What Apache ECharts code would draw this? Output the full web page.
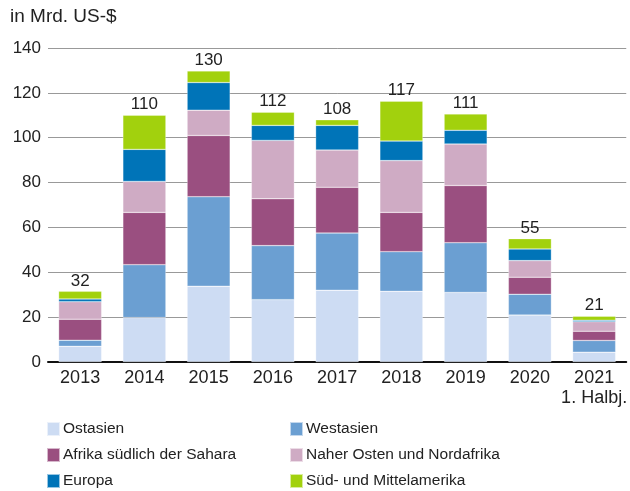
<!DOCTYPE html>
<html>
<head>
<meta charset="utf-8">
<script src="https://cdn.jsdelivr.net/npm/echarts@6/dist/echarts.min.js"></script>
<style>
  body { margin: 0; background: #fff; }
  #chart { width: 630px; height: 491px; }
</style>
</head>
<body>
<div id="chart"></div>
<script>
// values in Mrd. US-$
const years = ["2013", "2014", "2015", "2016", "2017", "2018", "2019", "2020", "2021\n1. Halbj."];
const totals = [32, 110, 130, 112, 108, 117, 111, 55, 21];
const ostasien = [7.0, 19.8, 33.8, 27.8, 32.0, 31.5, 31.0, 20.9, 4.4];
const westasien = [2.7, 23.6, 39.9, 24.1, 25.5, 17.7, 22.2, 9.3, 5.2];
const afrika = [9.4, 23.3, 27.3, 20.9, 20.4, 17.5, 25.5, 7.6, 4.1];
const naherOsten = [7.8, 13.8, 11.3, 26.0, 16.6, 23.1, 18.5, 7.4, 4.3];
const europa = [1.2, 14.3, 12.3, 6.7, 11.0, 8.7, 6.1, 5.2, 0.6];
const suedamerika = [3.4, 15.2, 5.2, 5.9, 2.5, 17.8, 7.3, 4.6, 1.8];

const font = "Liberation Sans";
const textColor = "#222";

function bar(name, data, color, last) {
  const s = {
    name: name,
    type: "bar",
    stack: "total",
    data: data,
    barWidth: 43,
    itemStyle: { color: color, borderColor: "rgba(255,255,255,0.6)", borderWidth: 0.5 },
  };
  if (last) {
    s.label = {
      show: true,
      position: "top",
      distance: 2,
      color: textColor,
      fontFamily: font,
      fontSize: 17,
      formatter: (p) => totals[p.dataIndex],
    };
  }
  return s;
}

function legendCol(left, names) {
  return {
    left: left,
    top: 421,
    height: 80,
    padding: 0,
    orient: "vertical",
    itemWidth: 13,
    itemHeight: 14,
    itemGap: 10,
    icon: "rect",
    textStyle: { fontFamily: font, fontSize: 15.5, color: textColor, padding: [0, 0, 0, -2] },
    data: names,
  };
}

const chart = echarts.init(document.getElementById("chart"));
chart.setOption({
  animation: false,
  textStyle: { fontFamily: font },
  title: {
    text: "in Mrd. US-$",
    left: 10,
    top: 7,
    padding: 0,
    textStyle: { fontFamily: font, fontSize: 19, fontWeight: "normal", color: textColor },
  },
  grid: { left: 48, right: 1, top: 48, bottom: 129 },
  legend: [
    legendCol(46, ["Ostasien", "Afrika südlich der Sahara", "Europa"]),
    legendCol(289, ["Westasien", "Naher Osten und Nordafrika", "Süd- und Mittelamerika"]),
  ],
  xAxis: {
    type: "category",
    data: years,
    axisTick: { show: false },
    axisLine: { lineStyle: { color: "#111", width: 2 } },
    axisLabel: { interval: 0, color: textColor, fontFamily: font, fontSize: 18, lineHeight: 20, margin: 6 },
  },
  yAxis: {
    type: "value",
    min: 0,
    max: 140,
    interval: 20,
    axisLine: { show: false },
    axisTick: { show: false },
    splitLine: { lineStyle: { color: "#999", width: 1 } },
    axisLabel: { color: textColor, fontFamily: font, fontSize: 17, margin: 7 },
  },
  series: [
    bar("Ostasien", ostasien, "#cddcf3"),
    bar("Westasien", westasien, "#6b9fd2"),
    bar("Afrika südlich der Sahara", afrika, "#9a4f80"),
    bar("Naher Osten und Nordafrika", naherOsten, "#cfabc4"),
    bar("Europa", europa, "#0074b8"),
    bar("Süd- und Mittelamerika", suedamerika, "#a2d10d", true),
  ],
});
</script>
</body>
</html>
